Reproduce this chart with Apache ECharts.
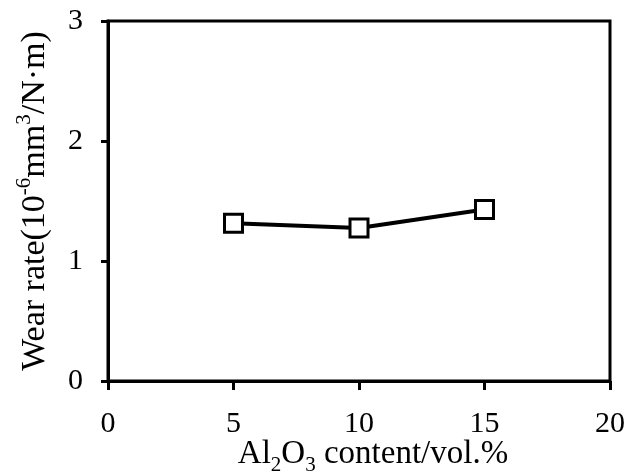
<!DOCTYPE html>
<html><head><meta charset="utf-8">
<script src="https://cdn.jsdelivr.net/npm/echarts@6/dist/echarts.min.js"></script>
<style>html,body{margin:0;padding:0;background:#fff}#c{width:628px;height:473px}</style>
</head><body><div id="c"></div>
<script>
const xValues = [5, 10, 15];
const wearRate = [1.315, 1.275, 1.43];
const xTicks = [0, 5, 10, 15, 20];
const yTicks = [0, 1, 2, 3];

const FONT = 'Liberation Serif';
const chart = echarts.init(document.getElementById('c'));
chart.setOption({
  animation: false,
  backgroundColor: '#fff',
  grid: { left: 108, right: 18, top: 21, bottom: 92, containLabel: false, outerBoundsMode: 'none',
          show: true, borderColor: '#000', borderWidth: 3, backgroundColor: 'transparent' },
  xAxis: {
    type: 'value', min: xTicks[0], max: xTicks[xTicks.length-1], interval: 5,
    axisLine: { show: true, lineStyle: { color: '#000', width: 3 } },
    axisTick: { show: true, inside: false, length: 9, lineStyle: { color: '#000', width: 3 } },
    splitLine: { show: false },
    axisLabel: { color: '#000', fontFamily: FONT, fontSize: 30, margin: 28 },
    name: '{a|Al}{s|2}{a|O}{s|3}{a| content/vol.%}',
    nameLocation: 'middle', nameGap: 54, nameMoveOverlap: false,
    nameTextStyle: {
      color: '#000', fontFamily: FONT, fontSize: 33,
      padding: [0, 0, 0, 28],
      rich: {
        a: { fontFamily: FONT, fontSize: 33, color: '#000', lineHeight: 36, verticalAlign: 'bottom' },
        s: { fontFamily: FONT, fontSize: 21, color: '#000', lineHeight: 36, verticalAlign: 'bottom', padding: [0,0,-5,0] }
      }
    }
  },
  yAxis: {
    type: 'value', min: yTicks[0], max: yTicks[yTicks.length-1], interval: 1,
    axisLine: { show: true, lineStyle: { color: '#000', width: 3 } },
    axisTick: { show: true, inside: false, length: 7, lineStyle: { color: '#000', width: 3 } },
    splitLine: { show: false },
    axisLabel: { color: '#000', fontFamily: FONT, fontSize: 30, margin: 25 },
    name: '{a|Wear rate(10}{p|-6}{a|mm}{p|3}{a|/N·m)}',
    nameLocation: 'middle', nameGap: 56, nameMoveOverlap: false,
    nameTextStyle: {
      color: '#000', fontFamily: FONT, fontSize: 34,
      rich: {
        a: { fontFamily: FONT, fontSize: 34, color: '#000', lineHeight: 38, verticalAlign: 'bottom' },
        p: { fontFamily: FONT, fontSize: 21, color: '#000', lineHeight: 38, verticalAlign: 'top' }
      }
    }
  },
  series: [{
    type: 'line',
    data: xValues.map((x, i) => [x, wearRate[i]]),
    symbol: 'rect', symbolSize: 18,
    lineStyle: { color: '#000', width: 4 },
    itemStyle: { color: '#fff', borderColor: '#000', borderWidth: 3 }
  }]
});
</script></body></html>
